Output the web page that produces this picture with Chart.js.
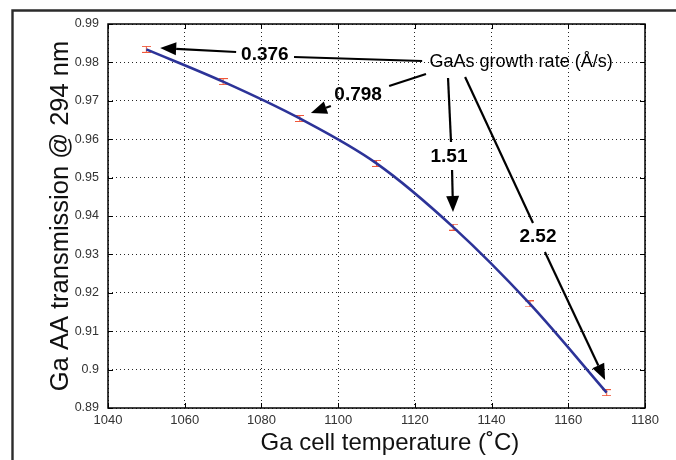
<!DOCTYPE html>
<html>
<head>
<meta charset="utf-8">
<script src="https://cdn.jsdelivr.net/npm/chart.js@4.4.1/dist/chart.umd.min.js"></script>
<style>
    html, body { margin: 0; padding: 0; background: #fff; }
    #wrap { width: 676px; height: 460px; position: relative; }
</style>
</head>
<body>
<div id="wrap"><canvas id="chart-transmission"></canvas></div>
<script>
// measured points
const temperatures = [1050, 1070, 1090, 1110, 1130, 1150, 1170];
const transmission = [0.9834, 0.9750, 0.9654, 0.9537, 0.9371, 0.9171, 0.8940];

const xTicks = [1040, 1060, 1080, 1100, 1120, 1140, 1160, 1180];
const yTicks = [0.89, 0.90, 0.91, 0.92, 0.93, 0.94, 0.95, 0.96, 0.97, 0.98, 0.99];

// growth rate notes, placed in data units
const rateLabels = ["0.376", "0.798", "1.51", "2.52"];
const rateLabelX = [1080.9, 1105.2, 1128.9, 1152.1];
const rateLabelY = [0.9819, 0.9715, 0.9554, 0.9345];
const noteTitle = "GaAs growth rate (Å/s)";
const noteTitleX = 1147.7;
const noteTitleY = 0.9801;
// [x1, y1, x2, y2]
const leaderLines = [
    [1088.5, 0.98141, 1121.9, 0.98036],
    [1113.3, 0.97385, 1122.9, 0.97698],
    [1128.65, 0.97594, 1129.43, 0.95927],
    [1133.1, 0.97620, 1150.8, 0.93818]
];
// [fromX, fromY, tipX, tipY]
const arrows = [
    [1073.4, 0.98271, 1053.6, 0.98375],
    [1098.1, 0.96865, 1092.9, 0.96682],
    [1129.7, 0.95198, 1129.95, 0.94104],
    [1153.9, 0.93062, 1169.6, 0.89729]
];

const FONT = "'Liberation Sans', Arial, sans-serif";

// little red error-bar marker
function makeErrorBar() {
    const c = document.createElement('canvas');
    c.width = 9;
    c.height = 7;
    const g = c.getContext('2d');
    g.strokeStyle = '#f0583a';
    g.lineWidth = 1;
    g.beginPath();
    g.moveTo(0, 0.5); g.lineTo(9, 0.5);
    g.moveTo(0, 6.5); g.lineTo(9, 6.5);
    g.moveTo(4.5, 0); g.lineTo(4.5, 7);
    g.stroke();
    return c;
}

const points = temperatures.map((t, i) => ({x: t, y: transmission[i]}));

const framePlugin = {
    id: 'matlabFrame',
    beforeDraw(chart) {
        const ctx = chart.ctx;
        ctx.save();
        ctx.fillStyle = '#fff';
        ctx.fillRect(0, 0, chart.width, chart.height);
        ctx.restore();
    },
    afterDraw(chart) {
        const {ctx, chartArea: a, scales: {x, y}} = chart;
        ctx.save();
        ctx.strokeStyle = '#000';
        ctx.lineWidth = 1.5;
        ctx.strokeRect(a.left, a.top, a.right - a.left, a.bottom - a.top);

        // inward ticks on all four sides
        ctx.lineWidth = 1;
        ctx.beginPath();
        xTicks.forEach(v => {
            const px = Math.round(x.getPixelForValue(v)) + 0.5;
            ctx.moveTo(px, a.bottom); ctx.lineTo(px, a.bottom - 5);
            ctx.moveTo(px, a.top); ctx.lineTo(px, a.top + 5);
        });
        yTicks.forEach(v => {
            const py = Math.round(y.getPixelForValue(v)) + 0.5;
            ctx.moveTo(a.left, py); ctx.lineTo(a.left + 5, py);
            ctx.moveTo(a.right, py); ctx.lineTo(a.right - 5, py);
        });
        ctx.stroke();

        // outer figure frame (top and left only)
        ctx.strokeStyle = '#2b2b2b';
        ctx.lineWidth = 2.4;
        ctx.beginPath();
        ctx.moveTo(12.5, chart.height);
        ctx.lineTo(12.5, 10.5);
        ctx.lineTo(chart.width, 10.5);
        ctx.stroke();
        ctx.restore();
    }
};

function drawArrow(ctx, x1, y1, x2, y2) {
    const ang = Math.atan2(y2 - y1, x2 - x1);
    const len = 16, half = 6.5;
    const bx = x2 - len * Math.cos(ang);
    const by = y2 - len * Math.sin(ang);
    ctx.beginPath();
    ctx.moveTo(x1, y1);
    ctx.lineTo(bx, by);
    ctx.stroke();
    ctx.beginPath();
    ctx.moveTo(x2, y2);
    ctx.lineTo(bx + half * Math.sin(ang), by - half * Math.cos(ang));
    ctx.lineTo(bx - half * Math.sin(ang), by + half * Math.cos(ang));
    ctx.closePath();
    ctx.fill();
}

const notesPlugin = {
    id: 'rateNotes',
    afterDatasetsDraw(chart) {
        const {ctx, scales: {x, y}} = chart;
        ctx.save();
        ctx.strokeStyle = '#000';
        ctx.fillStyle = '#000';
        ctx.lineWidth = 2.2;
        ctx.lineCap = 'butt';

        leaderLines.forEach(l => {
            ctx.beginPath();
            ctx.moveTo(x.getPixelForValue(l[0]), y.getPixelForValue(l[1]));
            ctx.lineTo(x.getPixelForValue(l[2]), y.getPixelForValue(l[3]));
            ctx.stroke();
        });
        arrows.forEach(a => {
            drawArrow(ctx,
                x.getPixelForValue(a[0]), y.getPixelForValue(a[1]),
                x.getPixelForValue(a[2]), y.getPixelForValue(a[3]));
        });

        ctx.textAlign = 'center';
        ctx.textBaseline = 'middle';
        ctx.font = 'bold 19px ' + FONT;
        rateLabels.forEach((t, i) => {
            ctx.fillText(t, x.getPixelForValue(rateLabelX[i]), y.getPixelForValue(rateLabelY[i]));
        });
        ctx.font = '18px ' + FONT;
        ctx.fillText(noteTitle, x.getPixelForValue(noteTitleX), y.getPixelForValue(noteTitleY));
        ctx.restore();
    }
};

const transmissionChart = document.getElementById('chart-transmission').getContext('2d');

new Chart(transmissionChart, {
    type: 'scatter',
    data: {
        datasets: [
            {
                label: 'fit',
                data: points,
                showLine: true,
                borderColor: '#2c3398',
                borderWidth: 2.6,
                cubicInterpolationMode: 'monotone',
                pointRadius: 0
            },
            {
                label: 'measured',
                data: points,
                pointStyle: makeErrorBar(),
                pointRadius: 4,
                showLine: false
            }
        ]
    },
    options: {
        responsive: true,
        maintainAspectRatio: false,
        animation: false,
        layout: {
            autoPadding: false,
            padding: {left: 0, top: 24, right: 31, bottom: 0}
        },
        plugins: {
            legend: {display: false},
            tooltip: {enabled: false}
        },
        scales: {
            x: {
                type: 'linear',
                min: 1040,
                max: 1180,
                afterFit: s => { s.height = 52; },
                afterBuildTicks: s => { s.ticks = xTicks.map(v => ({value: v})); },
                grid: {color: 'rgba(0,0,0,0.85)', lineWidth: 1, drawTicks: false},
                border: {display: false, dash: [1, 3]},
                ticks: {
                    padding: 5,
                    color: '#333',
                    font: {family: FONT, size: 13},
                    callback: v => String(v)
                },
                title: {
                    display: true,
                    text: '\u00a0\u00a0\u00a0\u00a0Ga cell temperature (˚C)',
                    color: '#111',
                    font: {family: FONT, size: 24},
                    padding: {top: 0, bottom: 2}
                }
            },
            y: {
                type: 'linear',
                min: 0.89,
                max: 0.99,
                afterFit: s => { s.width = 108; },
                afterBuildTicks: s => { s.ticks = yTicks.map(v => ({value: v})); },
                grid: {color: 'rgba(0,0,0,0.85)', lineWidth: 1, drawTicks: false},
                border: {display: false, dash: [1, 3]},
                ticks: {
                    padding: 9,
                    color: '#333',
                    font: {family: FONT, size: 12.5},
                    callback: v => String(parseFloat(v.toFixed(2)))
                },
                title: {
                    display: true,
                    text: 'Ga AA transmission @ 294 nm',
                    color: '#111',
                    font: {family: FONT, size: 25.5},
                    padding: {top: 46, bottom: 0}
                }
            }
        }
    },
    plugins: [framePlugin, notesPlugin]
});
</script>
</body>
</html>
